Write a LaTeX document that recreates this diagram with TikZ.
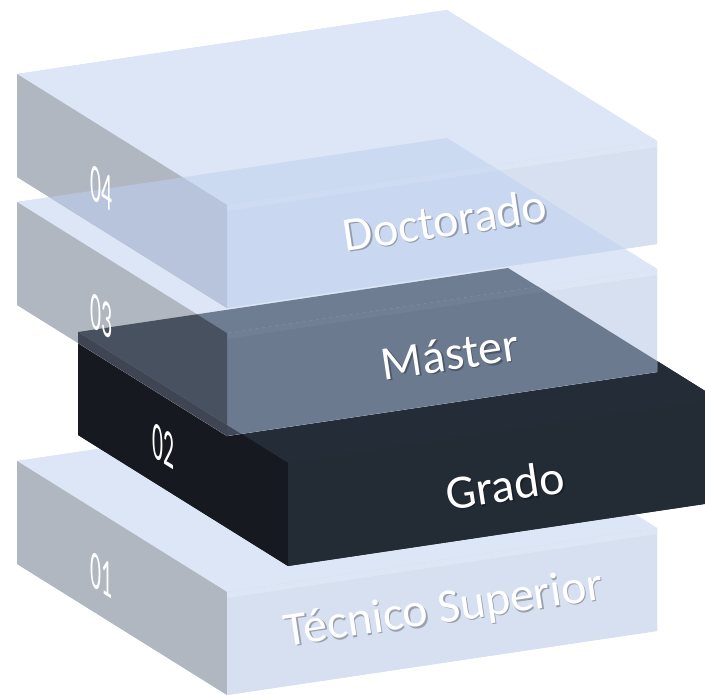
\documentclass[tikz,border=0pt]{standalone}
\usepackage{fontspec}
\setmainfont{Carlito}
\definecolor{blueTop}{HTML}{DCE6F6}
\definecolor{blueLeft}{HTML}{B0B7C1}
\definecolor{blueFront}{HTML}{D7E0F1}
\definecolor{blueBevel}{HTML}{DDE6F5}
\definecolor{dTopOnM}{HTML}{CBD9F1}
\definecolor{dFrontOnM}{HTML}{C9D8F0}
\definecolor{dBevelOnM}{HTML}{CEDBF2}
\definecolor{dLeftOnM}{HTML}{B8C4DB}
\definecolor{gTop}{HTML}{242C37}
\definecolor{gFront}{HTML}{232B35}
\definecolor{gLeft}{HTML}{16191F}
\definecolor{mTopOnG}{HTML}{6F7D93}
\definecolor{mFrontOnG}{HTML}{6C7A90}
\definecolor{mBevelOnG}{HTML}{717F95}
\definecolor{mLeftOnGtop}{HTML}{47515F}
\definecolor{mLeftOnGleft}{HTML}{3F4552}
\definecolor{mFrontOnGleft}{HTML}{40485A}
\newcommand\mkbox[3]{%
  \path (#2,#3) coordinate (#1L)
    +(430,-64) coordinate (#1B)
    +(640,67) coordinate (#1R)
    +(210,131) coordinate (#1F)
    +(0,103) coordinate (#1Ld)
    +(640,170) coordinate (#1Rd)
    +(210,234) coordinate (#1Fd)
    +(640,73) coordinate (#1Rb)
    +(210,137) coordinate (#1Fb);}
\newcommand\FHull[2]{\fill[#1] (#2L)--(#2B)--(#2R)--(#2Rd)--(#2Fd)--(#2Ld)--cycle;}
\newcommand\FTop[2]{\fill[#1] (#2L)--(#2B)--(#2R)--(#2F)--cycle;}
\newcommand\FLeft[2]{\fill[#1] (#2L)--(#2F)--(#2Fd)--(#2Ld)--cycle;}
\newcommand\FFront[2]{\fill[#1] (#2F)--(#2R)--(#2Rd)--(#2Fd)--cycle;}
\newcommand\FBevel[2]{\fill[#1] (#2F)--(#2R)--(#2Rb)--(#2Fb)--cycle;}
\newcommand\CTop[1]{\clip (#1L)--(#1B)--(#1R)--(#1F)--cycle;}
\newcommand\CLeft[1]{\clip (#1L)--(#1F)--(#1Fd)--(#1Ld)--cycle;}
\tikzset{
  lbl/.style={text=white, font=\fontsize{48}{52}\selectfont, inner sep=0pt, rotate=8.47},
  lblshadow/.style={text=black, opacity=0.28, font=\fontsize{48}{52}\selectfont, inner sep=0pt, rotate=8.47},
  numlbl/.style={text=white, font=\fontsize{54}{58}\selectfont, inner sep=0pt, yslant=-0.624, xscale=0.4}
}
\begin{document}
\begin{tikzpicture}[x=1pt,y=-1pt]
\useasboundingbox (0,0) rectangle (705,695);
\clip (0,0) rectangle (705,695);
\mkbox{D}{17}{74}
\mkbox{M}{17}{202}
\mkbox{G}{78}{332}
\mkbox{T}{17}{461}
% ---- block 01 (Tecnico Superior)
\FHull{blueFront}{T}
\FTop{blueTop}{T}
\FLeft{blueLeft}{T}
\FFront{blueFront}{T}
\FBevel{blueBevel}{T}
% ---- block 02 (Grado)
\FHull{gFront}{G}
\FTop{gTop}{G}
\FLeft{gLeft}{G}
\FFront{gFront}{G}
% ---- block 03 (Master), translucent over Grado
\FHull{blueFront}{M}
\FTop{blueTop}{M}
\FLeft{blueLeft}{M}
\FFront{blueFront}{M}
\FBevel{blueBevel}{M}
\begin{scope}
  \CTop{G}
  \FTop{mTopOnG}{M}
  \FFront{mFrontOnG}{M}
  \FBevel{mBevelOnG}{M}
  \FLeft{mLeftOnGtop}{M}
\end{scope}
\begin{scope}
  \CLeft{G}
  \FLeft{mLeftOnGleft}{M}
  \FFront{mFrontOnGleft}{M}
\end{scope}
% ---- block 04 (Doctorado), translucent over block 03
\FHull{blueFront}{D}
\FTop{blueTop}{D}
\FLeft{blueLeft}{D}
\FFront{blueFront}{D}
\FBevel{blueBevel}{D}
\begin{scope}
  \CTop{M}
  \FTop{dTopOnM}{D}
  \FFront{dFrontOnM}{D}
  \FBevel{dBevelOnM}{D}
  \FLeft{dLeftOnM}{D}
\end{scope}
% ---- labels (with a soft shadow)
\coordinate (tD) at (445,220);
\coordinate (tM) at (450,354);
\coordinate (tG) at (505,485);
\coordinate (tT) at (444,610);
\coordinate (sD) at (446.5,221.5);
\coordinate (sM) at (451.5,355.5);
\coordinate (sG) at (506.5,486.5);
\coordinate (sT) at (445.5,611.5);
\node[lblshadow] (shD) at (sD) {Doctorado};
\node[lblshadow] (shM) at (sM) {Máster};
\node[lblshadow] (shG) at (sG) {Grado};
\node[lblshadow] (shT) at (sT) {Técnico Superior};
\node[lbl] (labD) at (tD) {Doctorado};
\node[lbl] (labM) at (tM) {Máster};
\node[lbl] (labG) at (tG) {Grado};
\node[lbl] (labT) at (tT) {Técnico Superior};
\coordinate (nD) at (101,188);
\coordinate (nM) at (101,316);
\coordinate (nG) at (163,446);
\coordinate (nT) at (101,575);
\node[numlbl] (numD) at (nD) {04};
\node[numlbl] (numM) at (nM) {03};
\node[numlbl] (numG) at (nG) {02};
\node[numlbl] (numT) at (nT) {01};
\end{tikzpicture}
\end{document}
